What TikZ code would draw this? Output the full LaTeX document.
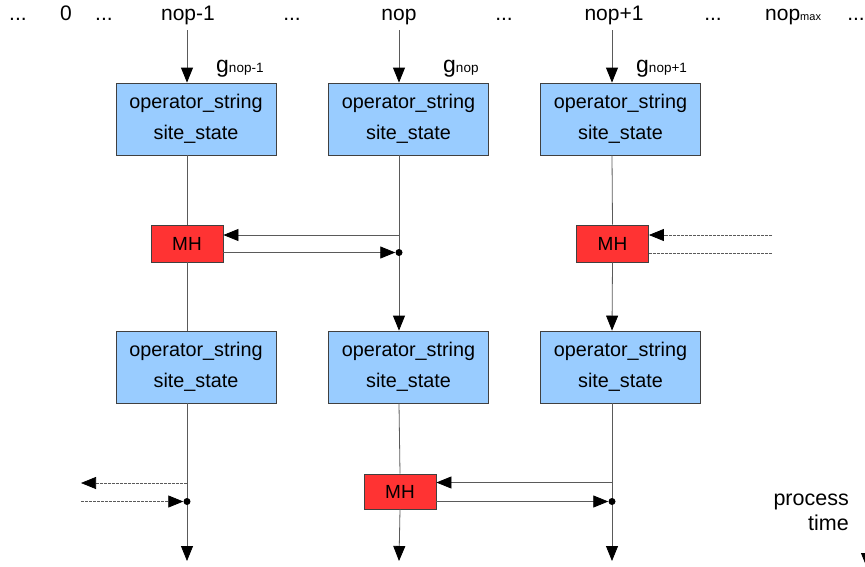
\documentclass[tikz,border=0pt]{standalone}
\usepackage{fontspec}
\setmainfont{Liberation Sans}
\usetikzlibrary{arrows.meta}
\definecolor{boxblue}{HTML}{99CCFF}
\definecolor{mhred}{HTML}{FF3333}
\definecolor{linegray}{HTML}{5A5A5A}
\begin{document}
\begin{tikzpicture}[x=1pt,y=-1pt,
  opbox/.style={draw=black!75, fill=boxblue, line width=0.8pt, minimum width=160pt, minimum height=72pt, inner sep=0pt, align=center, font=\fontsize{19.8}{31}\selectfont},
  mhbox/.style={draw=black!75, fill=mhred, line width=0.8pt, minimum width=72pt, minimum height=37pt, inner sep=0pt, font=\fontsize{19}{19}\selectfont},
  lbl/.style={anchor=base, inner sep=0pt, font=\fontsize{21}{21}\selectfont},
  glbl/.style={anchor=base west, inner sep=0pt},
  conn/.style={draw=linegray, line width=0.8pt},
  arr/.style={conn, -{Triangle[length=15pt,width=12pt,color=black]}},
  dconn/.style={draw=linegray, line width=0.7pt, dash pattern=on 3pt off 1pt},
  darr/.style={dconn, -{Triangle[length=15pt,width=12pt,color=black]}},
  dot/.style={circle, fill=black, inner sep=0pt, minimum size=7pt},
]
\useasboundingbox (0,0) rectangle (865,566);
\clip (0,0) rectangle (865,566);

% top labels
\node[lbl] (d0) at (18,20) {...};
\node[lbl] (z0) at (66,20) {0};
\node[lbl] (d1) at (104,20) {...};
\node[lbl] (n1) at (188,20) {nop-1};
\node[lbl] (d2) at (292,20) {...};
\node[lbl] (n2) at (399,20) {nop};
\node[lbl] (d3) at (504,20) {...};
\node[lbl] (n3) at (614,20) {nop+1};
\node[lbl] (d4) at (713,20) {...};
\node[glbl, font=\fontsize{21}{21}\selectfont] (nm) at (765,20) {nop{\fontsize{11}{11}\selectfont max}};
\node[lbl, anchor=base east] (d5) at (865,20) {...};

% g labels
\node[glbl] (g1) at (216,72) {{\fontsize{23}{23}\selectfont g}{\fontsize{13.5}{13.5}\selectfont nop-1}};
\node[glbl] (g2) at (443,72) {{\fontsize{23}{23}\selectfont g}{\fontsize{13.5}{13.5}\selectfont nop}};
\node[glbl] (g3) at (636,72) {{\fontsize{23}{23}\selectfont g}{\fontsize{13.5}{13.5}\selectfont nop+1}};

% column coordinates
\coordinate (t1) at (187,30);
\coordinate (t2) at (399,30);
\coordinate (t3) at (612,30);
\coordinate (e1) at (187,561);
\coordinate (e2) at (399,561);
\coordinate (e3) at (612,561);

% boxes
\node[opbox] (a1) at (196,119) {operator\_string\\site\_state};
\node[opbox] (a2) at (408.5,119) {operator\_string\\site\_state};
\node[opbox] (a3) at (620.5,119) {operator\_string\\site\_state};
\node[opbox] (b1) at (196,367) {operator\_string\\site\_state};
\node[opbox] (b2) at (408.5,367) {operator\_string\\site\_state};
\node[opbox] (b3) at (620.5,367) {operator\_string\\site\_state};

\node[mhbox] (m1) at (187,243.5) {MH};
\node[mhbox] (m2) at (612.5,243.5) {MH};
\node[mhbox, minimum height=35pt] (m3) at (400,491.5) {MH};

% process time
\node[anchor=base east, inner sep=0pt, font=\fontsize{21.5}{21.5}\selectfont] (pt) at (849,505) {process};
\node[anchor=base east, inner sep=0pt, font=\fontsize{21.5}{21.5}\selectfont] (tm) at (849,530) {time};
\coordinate (pa) at (867,530);
\coordinate (pb) at (867,568);
\draw[arr] (pa) -- (pb);

% column 1
\draw[arr] (t1) -- (t1 |- a1.north);
\draw[conn] (t1 |- a1.south) -- (m1.north);
\draw[conn] (m1.south) -- (t1 |- b1.north);
\draw[arr] (t1 |- b1.south) -- (e1);
% column 2
\draw[arr] (t2) -- (t2 |- a2.north);
\draw[arr] (t2 |- a2.south) -- (t2 |- b2.north);
\draw[conn] (t2 |- b2.south) -- (m3.north);
\draw[arr] (m3.south) -- (e2);
% column 3
\draw[arr] (t3) -- (t3 |- a3.north);
\draw[conn] (t3 |- a3.south) -- (m2.north);
\draw[arr] (m2.south) -- (t3 |- b3.north);
\draw[arr] (t3 |- b3.south) -- (e3);

% MH1 exchanges
\coordinate (h1) at (399,235);
\node[dot] (p1) at (399,252.5) {};
\draw[arr] (h1) -- (h1 -| m1.east);
\draw[arr] (m1.east |- p1) -- (p1.west);

% MH2 exchanges (dashed)
\coordinate (r1) at (772,235);
\coordinate (r2) at (772,253);
\draw[darr] (r1) -- (r1 -| m2.east);
\draw[dconn] (m2.east |- r2) -- (r2);

% column 1 bottom exchanges (dashed)
\coordinate (k1) at (187,483);
\coordinate (l1) at (81,483);
\coordinate (l2) at (81,501.5);
\node[dot] (p2) at (187,501.5) {};
\draw[darr] (k1) -- (l1);
\draw[darr] (l2) -- (p2.west);

% MH3 exchanges
\coordinate (k2) at (612,482.5);
\node[dot] (p3) at (612,501.5) {};
\draw[arr] (k2) -- (k2 -| m3.east);
\draw[arr] (m3.east |- p3) -- (p3.west);
\end{tikzpicture}
\end{document}
